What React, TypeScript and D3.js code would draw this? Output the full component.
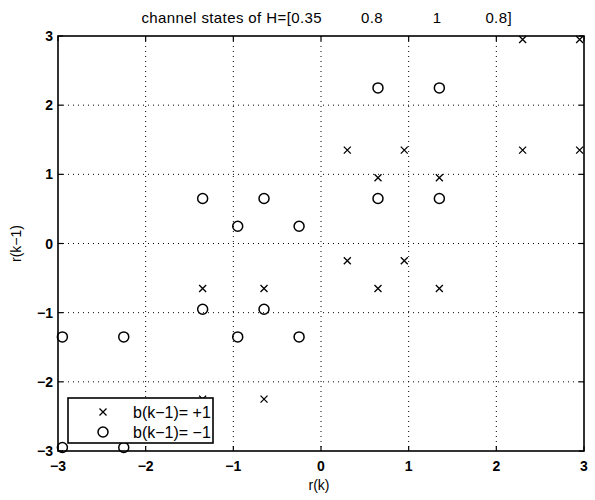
import React from "react";
import * as d3 from "d3";

const xTicks = [-3, -2, -1, 0, 1, 2, 3];
const yTicks = [-3, -2, -1, 0, 1, 2, 3];

const crossX = [2.3, 2.95, 0.3, 0.95, 2.3, 2.95, 0.65, 1.35, 0.3, 0.95, 0.65, 1.35, -1.35, -0.65, -0.65, -1.35];
const crossY = [2.95, 2.95, 1.35, 1.35, 1.35, 1.35, 0.95, 0.95, -0.25, -0.25, -0.65, -0.65, -0.65, -0.65, -2.25, -2.25];

const circX = [0.65, 1.35, 0.65, 1.35, -1.35, -0.65, -0.95, -0.25, -1.35, -0.65, -2.95, -2.25, -0.95, -0.25, -2.95, -2.25];
const circY = [2.25, 2.25, 0.65, 0.65, 0.65, 0.65, 0.25, 0.25, -0.95, -0.95, -1.35, -1.35, -1.35, -1.35, -2.95, -2.95];

const titleParts = ["channel states of H=[0.35", "0.8", "1", "0.8]"];
const legendLabels = ["b(k\u22121)= +1", "b(k\u22121)= \u22121"];

const L = 58, R = 584, T = 36, B = 451;
const FONT = "Liberation Sans, Arial, Helvetica, sans-serif";

export default function App() {
  const x = d3.scaleLinear().domain([-3, 3]).range([L, R]);
  const y = d3.scaleLinear().domain([-3, 3]).range([B, T]);
  const cs = 3.5;
  const titleX = [322, 372, 437, 512];
  const titleAnchor = ["end", "middle", "middle", "end"];
  return (
    <svg width={595} height={500} style={{ position: "absolute", left: 0, top: 0, background: "#fff" }}>
      <rect x={0} y={0} width={595} height={500} fill="#fff" />
      {xTicks.slice(1, -1).map((t) => (
        <line key={"gx" + t} x1={x(t)} x2={x(t)} y1={T} y2={B} stroke="#000" strokeWidth={1} strokeDasharray="1,4" />
      ))}
      {yTicks.slice(1, -1).map((t) => (
        <line key={"gy" + t} x1={L} x2={R} y1={y(t)} y2={y(t)} stroke="#000" strokeWidth={1} strokeDasharray="1,4" />
      ))}
      {xTicks.map((t) => (
        <g key={"tx" + t}>
          <line x1={x(t)} x2={x(t)} y1={B} y2={B - 5} stroke="#000" strokeWidth={1.2} />
          <line x1={x(t)} x2={x(t)} y1={T} y2={T + 5} stroke="#000" strokeWidth={1.2} />
          <text x={x(t)} y={B + 20} textAnchor="middle" fontFamily={FONT} fontSize={14} fontWeight="bold">
            {t < 0 ? "\u2212" + Math.abs(t) : String(t)}
          </text>
        </g>
      ))}
      {yTicks.map((t) => (
        <g key={"ty" + t}>
          <line x1={L} x2={L + 5} y1={y(t)} y2={y(t)} stroke="#000" strokeWidth={1.2} />
          <line x1={R} x2={R - 5} y1={y(t)} y2={y(t)} stroke="#000" strokeWidth={1.2} />
          <text x={L - 5} y={y(t) + 5} textAnchor="end" fontFamily={FONT} fontSize={14} fontWeight="bold">
            {t < 0 ? "\u2212" + Math.abs(t) : String(t)}
          </text>
        </g>
      ))}
      {crossX.map((cx, i) => (
        <path key={"c" + i}
          d={`M${x(cx) - cs},${y(crossY[i]) - cs}L${x(cx) + cs},${y(crossY[i]) + cs}M${x(cx) - cs},${y(crossY[i]) + cs}L${x(cx) + cs},${y(crossY[i]) - cs}`}
          stroke="#000" strokeWidth={1.3} fill="none" />
      ))}
      {circX.map((cx, i) => (
        <circle key={"o" + i} cx={x(cx)} cy={y(circY[i])} r={5} stroke="#000" strokeWidth={1.5} fill="none" />
      ))}
      <rect x={L} y={T} width={R - L} height={B - T} fill="none" stroke="#000" strokeWidth={1.6} />
      <g>
        <rect x={68} y={398} width={145} height={45} fill="#fff" stroke="#000" strokeWidth={1.6} />
        <path d={`M${103 - cs},${412 - cs}L${103 + cs},${412 + cs}M${103 - cs},${412 + cs}L${103 + cs},${412 - cs}`} stroke="#000" strokeWidth={1.3} />
        <circle cx={103} cy={432} r={5} stroke="#000" strokeWidth={1.5} fill="none" />
        {legendLabels.map((lab, i) => (
          <text key={lab} x={133} y={418 + i * 20} fontFamily={FONT} fontSize={16}>{lab}</text>
        ))}
      </g>
      {titleParts.map((p, i) => (
        <text key={p + i} x={titleX[i]} y={23} textAnchor={titleAnchor[i]} fontFamily={FONT} fontSize={15} letterSpacing={0.4}>{p}</text>
      ))}
      <text x={319} y={490} textAnchor="middle" fontFamily={FONT} fontSize={14}>r(k)</text>
      <text transform={`translate(21,${y(0)}) rotate(-90)`} textAnchor="middle" fontFamily={FONT} fontSize={14}>r(k{"\u2212"}1)</text>
    </svg>
  );
}
